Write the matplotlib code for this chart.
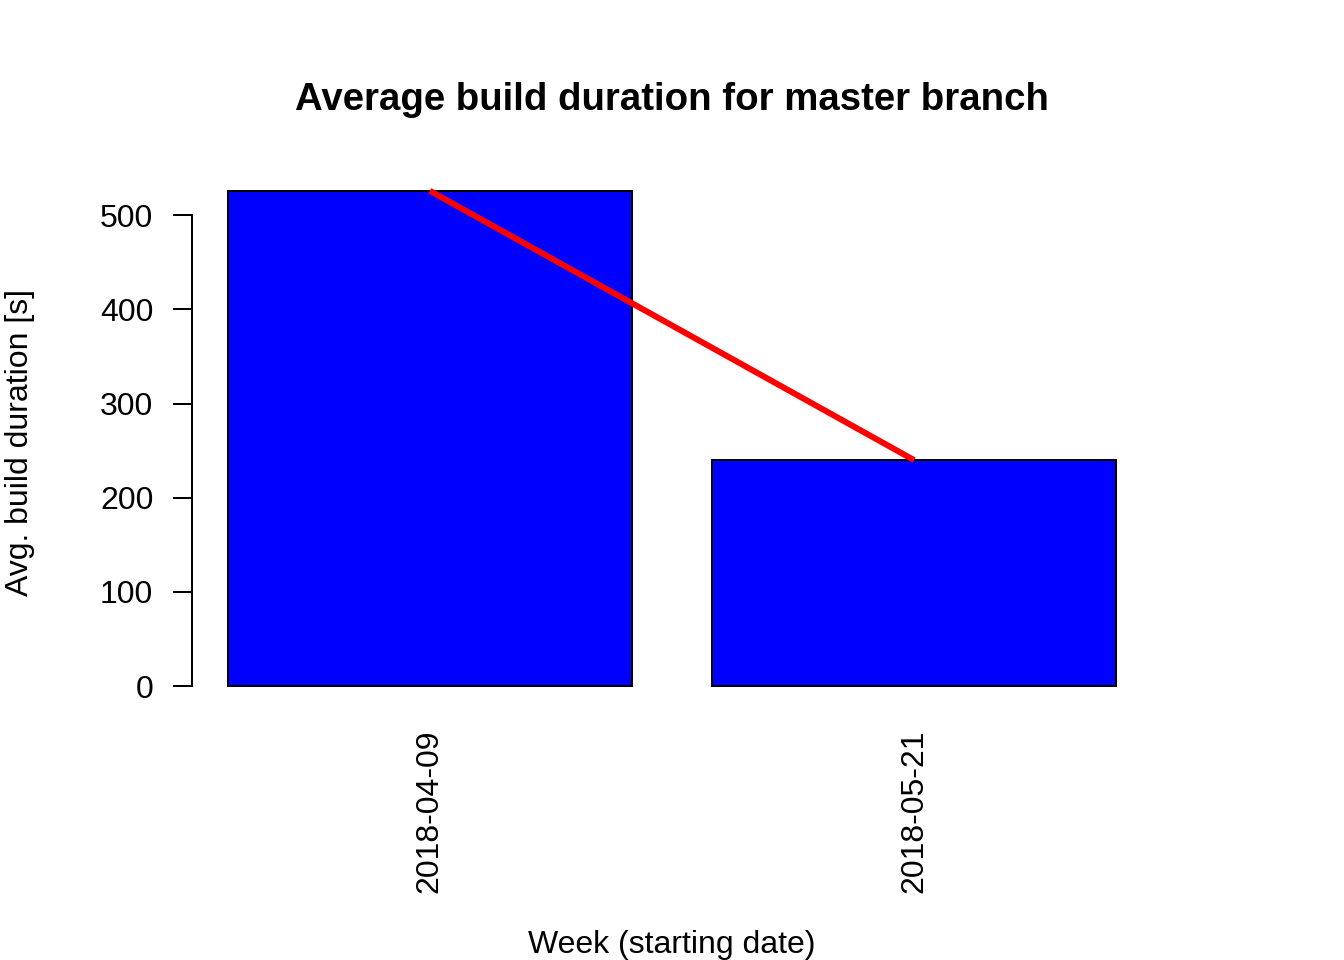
import matplotlib
matplotlib.use("Agg")
import matplotlib.pyplot as plt

weeks = ["2018-04-09", "2018-05-21"]
avg_duration = [526, 240]
y_ticks = [0, 100, 200, 300, 400, 500]

plt.rcParams['font.family'] = ['Liberation Sans', 'DejaVu Sans']

fig = plt.figure(figsize=(7, 5), dpi=192)
ax = fig.add_axes([0.1432, 0.2646, 0.7136, 0.5573])

# R barplot layout: width 1, space 0.2
centers = [0.7 + 1.2 * i for i in range(len(weeks))]
ax.bar(centers, avg_duration, width=1.0, color='#0000ff', edgecolor='black', linewidth=0.75)
ax.plot(centers, avg_duration, color='#ff0000', linewidth=2.25, solid_capstyle='butt', zorder=3)

ymax = max(avg_duration)
ax.set_xlim(0.2 - 0.088, centers[-1] + 0.5 + 0.088)
ax.set_ylim(-0.04 * ymax, 1.04 * ymax)

for s in ['top', 'right', 'bottom']:
    ax.spines[s].set_visible(False)
ax.spines['left'].set_bounds(0, 500)
ax.spines['left'].set_linewidth(0.75)

ax.set_yticks(y_ticks)
ax.set_yticklabels([str(t) for t in y_ticks], fontsize=12)
ax.tick_params(axis='y', length=7.2, width=0.75, pad=7.5)

ax.set_xticks(centers)
ax.set_xticklabels(weeks, rotation=90, fontsize=12)
ax.tick_params(axis='x', length=0, pad=9)

fig.text(0.5, 1 - 100 / 960, "Average build duration for master branch",
         ha='center', va='center', fontsize=14.4, fontweight='bold')
fig.text(0.5, 1 - 945 / 960, "Week (starting date)", ha='center', va='center', fontsize=12)
fig.text(20 / 1344, 1 - 443 / 960, "Avg. build duration [s]", ha='center', va='center',
         rotation=90, fontsize=12)

fig.savefig("out.png", dpi=192)
